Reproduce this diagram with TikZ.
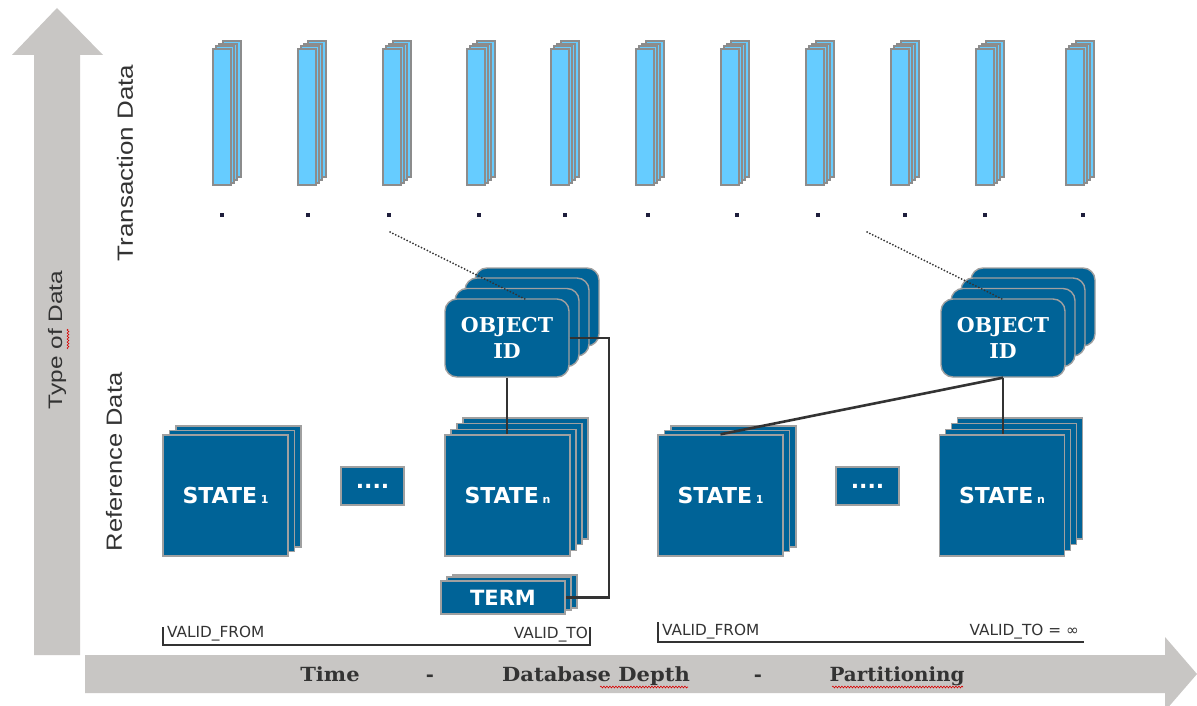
\documentclass[tikz,border=0pt]{standalone}
\usepackage{fontspec}
\usepackage{graphicx}
\setmainfont{DejaVu Sans}
\newfontfamily\arialf{Liberation Sans}
\newfontfamily\dserif{DejaVu Serif}
\usetikzlibrary{shadows,decorations.pathmorphing}
\definecolor{boxblue}{RGB}{0,99,151}
\definecolor{boxedge}{RGB}{160,160,160}
\definecolor{colfill}{RGB}{102,204,255}
\definecolor{coledge}{RGB}{140,140,140}
\definecolor{arrowgray}{RGB}{200,198,196}
\definecolor{txtdark}{RGB}{51,51,51}
\definecolor{linedark}{RGB}{51,51,51}
\definecolor{dotcol}{RGB}{30,30,60}
\tikzset{
  lay/.style n args={2}{copy shadow={shadow xshift=#1pt, shadow yshift=#2pt, fill=boxblue, draw=boxedge, line width=1.4pt, opacity=1}},
  colay/.style n args={2}{copy shadow={shadow xshift=#1pt, shadow yshift=#2pt, fill=colfill, draw=coledge, line width=2pt, opacity=1}},
  bluebox/.style={draw=boxedge, line width=1.4pt, fill=boxblue, text=white, inner sep=0pt, font=\bfseries\fontsize{22}{26}\selectfont},
  stateone/.style={bluebox, minimum width=125pt, minimum height=121pt, lay={13}{9}, lay={6.5}{4.5}},
  staten/.style={bluebox, minimum width=125pt, minimum height=121pt, lay={18}{17}, lay={12}{11.4}, lay={6}{5.7}},
  oidbox/.style={bluebox, rounded corners=12pt, minimum width=124pt, minimum height=78pt, font=\dserif\bfseries\fontsize{20.5}{26}\selectfont, align=center, lay={30}{31}, lay={20}{21}, lay={10}{10.5}},
  termbox/.style={bluebox, minimum width=124pt, minimum height=33pt, font=\bfseries\fontsize{21}{24}\selectfont, lay={12}{6}, lay={6}{4}},
  dotsbox/.style={bluebox, minimum width=63pt, minimum height=38pt},
  colbox/.style={draw=coledge, fill=colfill, line width=2pt, minimum width=18pt, minimum height=136pt, inner sep=0pt, colay={9.9}{7.5}, colay={6.6}{5}, colay={3.3}{2.5}},
  dotn/.style={fill=dotcol, minimum size=3.2pt, inner sep=0pt},
  conn/.style={draw=linedark, line width=2.6pt},
  dotline/.style={draw=linedark, line width=2pt, line cap=round, dash pattern=on 0pt off 3.2pt},
  validline/.style={draw=linedark, line width=1.2pt},
  validtxt/.style={text=txtdark, font=\fontsize{15.3}{17}\selectfont, inner sep=0pt},
  bottxt/.style={text=txtdark, font=\dserif\bfseries\fontsize{19.5}{21}\selectfont, inner sep=0pt, anchor=base},
  sidetxt/.style={text=txtdark, rotate=90, inner sep=0pt},
  squig/.style={draw=red!85!black, line width=0.6pt, decorate, decoration={snake, amplitude=0.9pt, segment length=3pt}},
}
\begin{document}
\begin{tikzpicture}[x=1pt, y=-1pt]
\useasboundingbox (0,0) rectangle (1197,706);
\fill[white] (0,0) rectangle (1197,706);
% axes
\fill[arrowgray] (34,655) -- (34,55) -- (12,55) -- (57,8) -- (103,55) -- (80,55) -- (80,655) -- cycle;
\fill[arrowgray] (85,655) -- (1165,655) -- (1165,637) -- (1197,674) -- (1165,711) -- (1165,693) -- (85,693) -- cycle;
% side labels
\node[sidetxt] (ltype) at (57,340) {\arialf\fontsize{19.5}{20}\selectfont\scalebox{1.25}[1]{Type of Data}};
\node[sidetxt] (ltrans) at (125,163) {\arialf\fontsize{22}{22}\selectfont\scalebox{1.18}[1]{Transaction Data}};
\node[sidetxt] (lref) at (114,462) {\arialf\fontsize{22}{22}\selectfont\scalebox{1.16}[1]{Reference Data}};
\draw[squig] (68,349) -- (68,329);
% transaction columns
\foreach \cx [count=\i] in {212,297,382,466,550,635,720,805,890,975,1065}{
  \node[colbox] (t\i) at (\cx+9.75,117) {};
}
\foreach \dx [count=\i] in {222,308,389,479,565,648,737,818,905,985,1083}{
  \node[dotn] (p\i) at (\dx,215) {};
}
% reference data, left
\node[stateone] (s1) at (225.5,495.5) {STATE\,{\fontsize{11}{11}\selectfont 1}};
\node[dotsbox] (e1) at (372.5,486) {....};
\node[staten] (sn1) at (507.5,495.5) {STATE\,{\fontsize{11}{11}\selectfont n}};
\node[oidbox] (oid1) at (507,338) {OBJECT\\ID};
\node[termbox] (term) at (503,597.5) {TERM};
% reference data, right
\node[stateone] (s12) at (720.5,495.5) {STATE\,{\fontsize{11}{11}\selectfont 1}};
\node[dotsbox] (e2) at (867.5,486) {....};
\node[staten] (sn2) at (1002,495.5) {STATE\,{\fontsize{11}{11}\selectfont n}};
\node[oidbox] (oid2) at (1003,338) {OBJECT\\ID};
% connectors
\draw[conn] (oid1.south) -- (oid1.south |- sn1.north);
\coordinate (c1) at (609,338);
\draw[conn] (oid1.east) -- (c1) |- (term.east);
\draw[conn] (oid2.south) -- (oid2.south |- sn2.north);
\draw[conn] (oid2.south) -- (s12.north);
% dotted guide lines
\coordinate (d1a) at (390,232);
\coordinate (d1b) at (525,299);
\coordinate (d2a) at (867,232);
\coordinate (d2b) at (1002,299);
\draw[dotline] (d1a) -- (d1b);
\draw[dotline] (d2a) -- (d2b);
% validity brackets
\coordinate (v1a) at (163,627);
\coordinate (v1b) at (163,645);
\coordinate (v1c) at (590,645);
\coordinate (v1d) at (590,627);
\draw[validline] (v1a) -- (v1b) -- (v1c) -- (v1d);
\coordinate (v2a) at (658,622);
\coordinate (v2b) at (658,642);
\coordinate (v2c) at (1084,642);
\draw[validline] (v2a) -- (v2b) -- (v2c);
\node[validtxt, anchor=west] (vf1) at (167,634) {VALID\_FROM};
\node[validtxt, anchor=east] (vt1) at (588,635) {VALID\_TO};
\node[validtxt, anchor=west] (vf2) at (662,632) {VALID\_FROM};
\node[validtxt, anchor=east] (vt2) at (1079,632) {VALID\_TO = ∞};
% bottom axis labels
\node[bottxt] (bt) at (330,681) {\scalebox{1.08}[1]{Time}};
\node[bottxt] (bd1) at (430,681) {-};
\node[bottxt] (bdd) at (596,681) {\scalebox{1.08}[1]{Database Depth}};
\node[bottxt] (bd2) at (758,681) {-};
\node[bottxt] (bp) at (897,681) {\scalebox{1.02}[1]{Partitioning}};
\draw[squig] (600,687) -- (688,687);
\draw[squig] (832,687) -- (963,687);
\end{tikzpicture}
\end{document}
